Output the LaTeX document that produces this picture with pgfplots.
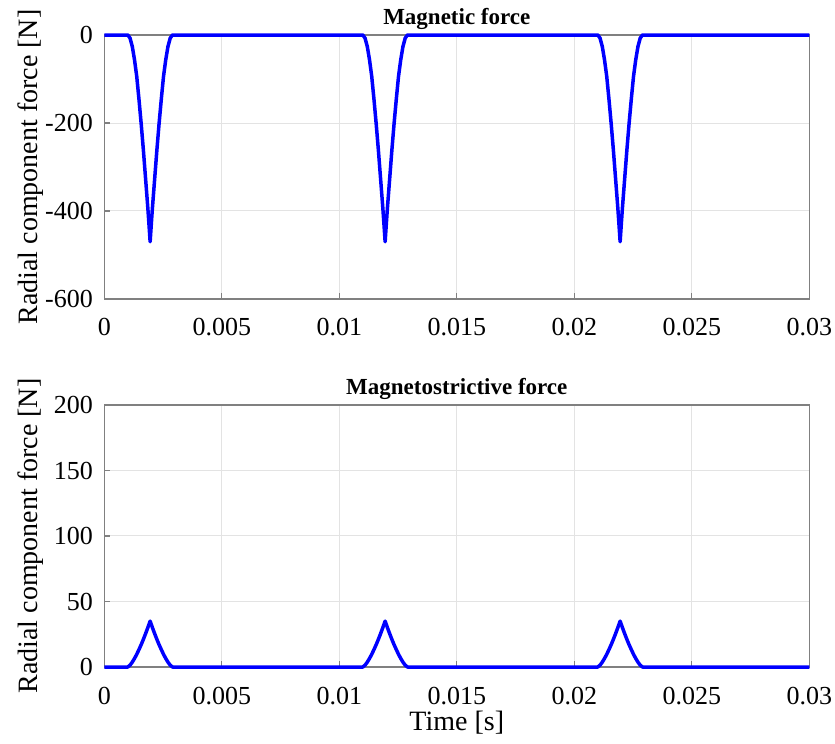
\documentclass[border=0pt]{standalone}
\usepackage{fontspec}
\setmainfont{Liberation Serif}
\usepackage{pgfplots}
\usepackage{pgfplotstable}
\pgfplotsset{compat=1.18}
\definecolor{axgray}{HTML}{808080}
\definecolor{gridgray}{HTML}{E3E3E3}
\definecolor{mblue}{HTML}{0000FF}

% radial magnetic force [N] vs time [s]
\pgfplotstableread{
t F
0 0
0.00100 0
0.001095 -7
0.00119 -26
0.001285 -56
0.00138 -94
0.001475 -146
0.00157 -202
0.001665 -263
0.00176 -329
0.001855 -395
0.0019025 -432
0.00195 -470
0.0019975 -432
0.002045 -395
0.00214 -329
0.002235 -263
0.00233 -202
0.002425 -146
0.00252 -94
0.002615 -56
0.00271 -26
0.002805 -7
0.0029 0
0.01100 0
0.011095 -7
0.01119 -26
0.011285 -56
0.01138 -94
0.011475 -146
0.01157 -202
0.011665 -263
0.01176 -329
0.011855 -395
0.0119025 -432
0.01195 -470
0.0119975 -432
0.012045 -395
0.01214 -329
0.012235 -263
0.01233 -202
0.012425 -146
0.01252 -94
0.012615 -56
0.01271 -26
0.012805 -7
0.0129 0
0.02100 0
0.021095 -7
0.02119 -26
0.021285 -56
0.02138 -94
0.021475 -146
0.02157 -202
0.021665 -263
0.02176 -329
0.021855 -395
0.0219025 -432
0.02195 -470
0.0219975 -432
0.022045 -395
0.02214 -329
0.022235 -263
0.02233 -202
0.022425 -146
0.02252 -94
0.022615 -56
0.02271 -26
0.022805 -7
0.0229 0
0.03 0
}\magnetic

% radial magnetostrictive force [N] vs time [s]
\pgfplotstableread{
t F
0 0
0.00100 0
0.001095 1.4
0.00119 3.7
0.001285 6.5
0.00138 9.7
0.001475 13.3
0.00157 17.1
0.001665 21.2
0.00176 25.6
0.001855 30.2
0.00195 35
0.002045 30.2
0.00214 25.6
0.002235 21.2
0.00233 17.1
0.002425 13.3
0.00252 9.7
0.002615 6.5
0.00271 3.7
0.002805 1.4
0.0029 0
0.01100 0
0.011095 1.4
0.01119 3.7
0.011285 6.5
0.01138 9.7
0.011475 13.3
0.01157 17.1
0.011665 21.2
0.01176 25.6
0.011855 30.2
0.01195 35
0.012045 30.2
0.01214 25.6
0.012235 21.2
0.01233 17.1
0.012425 13.3
0.01252 9.7
0.012615 6.5
0.01271 3.7
0.012805 1.4
0.0129 0
0.02100 0
0.021095 1.4
0.02119 3.7
0.021285 6.5
0.02138 9.7
0.021475 13.3
0.02157 17.1
0.021665 21.2
0.02176 25.6
0.021855 30.2
0.02195 35
0.022045 30.2
0.02214 25.6
0.022235 21.2
0.02233 17.1
0.022425 13.3
0.02252 9.7
0.022615 6.5
0.02271 3.7
0.022805 1.4
0.0229 0
0.03 0
}\magnetostrictive

\pgfplotsset{
  every axis title shift=0pt,
  mstyle/.style={
    scale only axis, width=352.5pt,
    xmin=0, xmax=0.03,
    xtick={0,0.005,0.01,0.015,0.02,0.025,0.03},
    xticklabels={0,0.005,0.01,0.015,0.02,0.025,0.03},
    scaled x ticks=false,
    grid=major, grid style={draw=gridgray, line width=0.5pt},
    axis line style={draw=axgray, line width=0.75pt},
    tick style={draw=axgray, line width=0.6pt},
    tick align=inside, major tick length=3pt,
    xtick pos=bottom, ytick pos=left,
    ticklabel style={font=\fontsize{13}{13}\selectfont},
    xticklabel style={anchor=base, inner sep=0pt, yshift=-18.5pt},
    yticklabel style={anchor=east, inner sep=0pt, xshift=-5.5pt},
    ylabel style={at={(axis description cs:-0.104,0.5)}, anchor=center, font=\fontsize{14}{14}\selectfont},
    xlabel style={at={(axis description cs:0.5,0)}, anchor=base, yshift=-31.5pt, font=\fontsize{14}{14}\selectfont},
    title style={at={(axis description cs:0.5,1)}, anchor=base, yshift=5.3pt, font=\bfseries\fontsize{11.5}{11.5}\selectfont},
    clip=false,
  },
  forceline/.style={draw=mblue, line width=1.75pt, line join=round, mark=none},
}

\begin{document}
\begin{tikzpicture}
\path[use as bounding box] (0,0) rectangle (417.5pt,372pt);

\begin{axis}[mstyle,
  at={(52.15pt,222.5pt)}, anchor=south west, height=132pt,
  ymin=-600, ymax=0, ytick={-600,-400,-200,0},
  yticklabels={-600,-400,-200,0},
  title={Magnetic force},
  ylabel={Radial component force [N]},
]
\addplot[forceline] table[x=t, y=F] {\magnetic};
\end{axis}

\begin{axis}[mstyle,
  at={(52.15pt,38.5pt)}, anchor=south west, height=131pt,
  ymin=0, ymax=200, ytick={0,50,100,150,200},
  yticklabels={0,50,100,150,200},
  title={Magnetostrictive force},
  ylabel={Radial component force [N]},
  xlabel={Time [s]},
]
\addplot[forceline] table[x=t, y=F] {\magnetostrictive};
\end{axis}
\end{tikzpicture}
\end{document}
